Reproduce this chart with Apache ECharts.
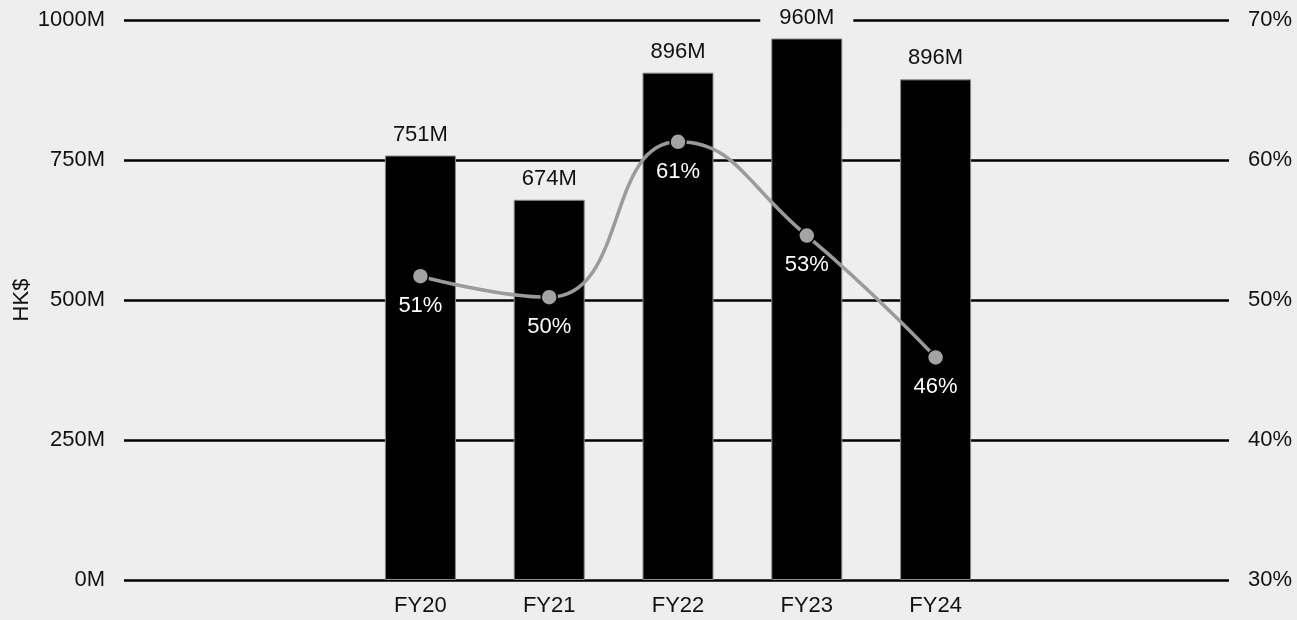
<!DOCTYPE html>
<html>
<head>
<meta charset="utf-8">
<script src="https://cdn.jsdelivr.net/npm/echarts@6/dist/echarts.min.js"></script>
<style>
  html, body { margin: 0; padding: 0; background: #eeeeee; }
  #chart { width: 1297px; height: 620px; }
</style>
</head>
<body>
<div id="chart"></div>
<script>
  // 数据
  var years = ['FY20', 'FY21', 'FY22', 'FY23', 'FY24'];
  var revenue = [758, 679, 906, 967, 894];          // 柱高 (HK$ M)
  var revenueLabels = ['751M', '674M', '896M', '960M', '896M'];
  var margin = [51.7, 50.2, 61.3, 54.6, 45.9];      // 折线 (%)
  var marginLabels = ['51%', '50%', '61%', '53%', '46%'];
  var leftTicks = [0, 250, 500, 750, 1000];
  var rightTicks = [30, 40, 50, 60, 70];

  var myChart = echarts.init(document.getElementById('chart'));
  var font = 'Liberation Sans, Arial, Helvetica, sans-serif';
  var fs = 22;

  var option = {
    backgroundColor: '#eeeeee',
    animation: false,
    textStyle: { fontFamily: font },
    grid: [
      // 网格线和刻度
      { left: 124, right: 68, top: 20, bottom: 40, outerBoundsMode: 'none', containLabel: false },
      // 柱子和折线
      { left: 356, right: 297, top: 20, bottom: 40, outerBoundsMode: 'none', containLabel: false }
    ],
    xAxis: [
      { type: 'category', gridIndex: 0, data: years, show: false },
      {
        type: 'category', gridIndex: 1, data: years,
        axisLine: { show: false },
        axisTick: { show: false },
        axisLabel: { color: '#111', fontSize: fs, margin: 15, fontFamily: font }
      }
    ],
    yAxis: [
      {
        type: 'value', gridIndex: 0, position: 'left',
        min: leftTicks[0], max: leftTicks[leftTicks.length - 1], interval: 250,
        name: 'HK$', nameLocation: 'middle', nameGap: 91, nameRotate: 90,
        nameMoveOverlap: false,
        nameTextStyle: { color: '#111', fontSize: fs, fontFamily: font },
        axisLine: { show: false },
        axisTick: { show: false },
        axisLabel: {
          color: '#111', fontSize: fs, margin: 19, fontFamily: font,
          formatter: function (v) { return v + 'M'; }
        },
        splitLine: { lineStyle: { color: '#000', width: 2.5 } }
      },
      {
        type: 'value', gridIndex: 0, position: 'right',
        min: rightTicks[0], max: rightTicks[rightTicks.length - 1], interval: 10,
        axisLine: { show: false },
        axisTick: { show: false },
        axisLabel: {
          color: '#111', fontSize: fs, margin: 19, fontFamily: font,
          formatter: function (v) { return v + '%'; }
        },
        splitLine: { show: false }
      },
      { type: 'value', gridIndex: 1, min: 0, max: 1000, show: false },
      { type: 'value', gridIndex: 1, min: 30, max: 70, show: false }
    ],
    series: [
      {
        name: 'HK$',
        type: 'bar',
        xAxisIndex: 1,
        yAxisIndex: 2,
        data: revenue,
        barWidth: 71,
        itemStyle: { color: '#000', borderColor: '#8a8a8a', borderWidth: 1 },
        label: {
          show: true,
          position: 'top',
          distance: 8,
          color: '#111',
          fontSize: fs,
          fontFamily: font,
          backgroundColor: '#eeeeee',
          padding: [2, 19],
          formatter: function (p) { return revenueLabels[p.dataIndex]; }
        },
        z: 2
      },
      {
        name: 'margin',
        type: 'line',
        xAxisIndex: 1,
        yAxisIndex: 3,
        data: margin,
        smooth: 0.5,
        symbol: 'circle',
        symbolSize: 16,
        lineStyle: { color: '#9b9b9b', width: 3.5 },
        itemStyle: { color: '#a3a3a3', borderColor: '#000', borderWidth: 1.5 },
        label: {
          show: true,
          position: 'bottom',
          distance: 10,
          color: '#fff',
          fontSize: fs,
          fontFamily: font,
          formatter: function (p) { return marginLabels[p.dataIndex]; }
        },
        z: 3
      }
    ]
  };

  myChart.setOption(option);
</script>
</body>
</html>
